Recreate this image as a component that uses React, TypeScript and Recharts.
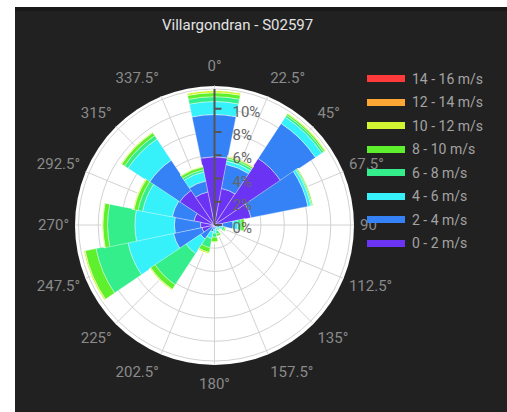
import React from 'react';
import { RadialBarChart, RadialBar, PolarGrid, PolarAngleAxis, PolarRadiusAxis, Legend } from 'recharts';

// wind directions (degrees, clockwise from north)
const directions = [0, 22.5, 45, 67.5, 90, 112.5, 135, 157.5, 180, 202.5, 225, 247.5, 270, 292.5, 315, 337.5];

// frequency (%) per speed class, one value per direction
const speed0to2 = [5.87, 3.2, 6.85, 3.2, 0.7, 0.15, 0.1, 0.1, 0.15, 0.2, 0.25, 1.1, 1.2, 1.8, 3.6, 2.9];
const speed2to4 = [3.63, 2.1, 3.6, 5.0, 0.9, 0.3, 0.15, 0.2, 0.25, 0.4, 1.2, 2.5, 2.25, 1.9, 3.1, 0.95];
const speed4to6 = [1.12, 0.3, 0.65, 0.25, 0.4, 0.25, 0.15, 0.25, 0.3, 0.6, 1.5, 4.0, 3.4, 2.6, 2.2, 0.8];
const speed6to8 = [0.42, 0.2, 0.2, 0.1, 0.3, 0.2, 0.1, 0.25, 0.35, 0.8, 3.2, 2.8, 2.35, 0.4, 0.35, 0.2];
const speed8to10 = [0.34, 0.15, 0.15, 0.1, 0.3, 0.15, 0.1, 0.2, 0.4, 0.4, 0.45, 0.95, 0.4, 0.35, 0.3, 0.25];
const speed10to12 = [0.21, 0.08, 0.1, 0.05, 0.05, 0, 0, 0.03, 0.1, 0.15, 0.12, 0.15, 0.1, 0.12, 0.1, 0.1];
const speed12to14 = [0, 0.04, 0, 0, 0, 0, 0, 0, 0, 0, 0, 0, 0, 0, 0, 0];
const speed14to16 = [0, 0, 0, 0, 0, 0, 0, 0, 0, 0, 0, 0, 0, 0, 0, 0];

const radiusTicks = [0, 2, 4, 6, 8, 10];
const radiusMax = 11.7;

const speedBins = [
  { key: 's0', name: '0 - 2 m/s', color: '#6b34f4', values: speed0to2 },
  { key: 's2', name: '2 - 4 m/s', color: '#3482f6', values: speed2to4 },
  { key: 's4', name: '4 - 6 m/s', color: '#36f0fa', values: speed4to6 },
  { key: 's6', name: '6 - 8 m/s', color: '#34ee8c', values: speed6to8 },
  { key: 's8', name: '8 - 10 m/s', color: '#5ef02c', values: speed8to10 },
  { key: 's10', name: '10 - 12 m/s', color: '#d2f532', values: speed10to12 },
  { key: 's12', name: '12 - 14 m/s', color: '#ffa634', values: speed12to14 },
  { key: 's14', name: '14 - 16 m/s', color: '#ff3a3a', values: speed14to16 },
];

const data = directions.map((dir, i) => {
  const row: Record<string, any> = { dir: `${dir}°` };
  speedBins.forEach((b) => {
    row[b.key] = b.values[i];
  });
  return row;
});

const CX = 214.5;
const CY = 225;
const R = 139.5;
const FONT = 'Roboto, sans-serif';
const HALF = 360 / directions.length / 2;

const renderAngleTick = (props: any) => {
  const label = String(props.payload.value);
  const deg = parseFloat(label);
  const rad = (deg * Math.PI) / 180;
  const s = Math.sin(rad);
  const c = Math.cos(rad);
  const anchor = s > 0.01 ? 'start' : s < -0.01 ? 'end' : 'middle';
  return (
    <text
      x={CX + (R + 6) * s}
      y={CY - (R + 19.5) * c}
      dy="0.35em"
      textAnchor={anchor}
      fill="#8a8a8a"
      fontSize={15}
      fontFamily={FONT}
    >
      {label}
    </text>
  );
};

const renderRadiusTick = (props: any) => {
  const v = props.payload.value;
  if (v > 10) return <g />;
  return (
    <g>
      <line x1={props.x} y1={props.y} x2={props.x + 7} y2={props.y} stroke="#555" strokeWidth={2} />
      <text x={props.x + 18} y={props.y + 8} fill="#666" fontSize={15} fontFamily={FONT}>
        {`${v}%`}
      </text>
    </g>
  );
};

const renderLegend = () => (
  <div style={{ fontFamily: FONT, fontSize: 14, color: '#a3a3a3' }}>
    {[...speedBins].reverse().map((b) => (
      <div key={b.key} style={{ display: 'flex', alignItems: 'center', height: 23.5 }}>
        <span
          style={{
            display: 'inline-block',
            width: 38,
            height: 7,
            background: b.color,
            marginRight: 7,
          }}
        />
        <span>{b.name}</span>
      </div>
    ))}
  </div>
);

export default function App() {
  return (
    <div style={{ position: 'absolute', left: 0, top: 0, width: 507, height: 412, background: '#fff', overflow: 'hidden' }}>
      <div style={{ position: 'absolute', left: 15, top: 7, right: 0, bottom: 0, background: '#212121' }} />
      <div style={{ position: 'absolute', left: 15, top: 7, right: 0, height: 4, background: '#191919' }} />
      <div
        style={{
          position: 'absolute',
          left: CX - R,
          top: CY - R,
          width: R * 2,
          height: R * 2,
          borderRadius: '50%',
          background: '#fff',
        }}
      />
      <div
        style={{
          position: 'absolute',
          left: 162,
          top: 16,
          fontFamily: FONT,
          fontSize: 15,
          lineHeight: '18px',
          color: '#e3e3e3',
          whiteSpace: 'nowrap',
        }}
      >
        Villargondran - S02597
      </div>
      <div style={{ position: 'absolute', left: 0, top: 0 }}>
        <RadialBarChart
          width={507}
          height={412}
          data={data}
          layout="centric"
          cx={CX}
          cy={CY}
          innerRadius={0}
          outerRadius={R}
          startAngle={90 - HALF}
          endAngle={-270 - HALF}
          barCategoryGap={0}
          barGap={0}
          margin={{ top: 0, right: 0, bottom: 0, left: 0 }}
        >
          <PolarGrid gridType="circle" stroke="#d2d2d2" polarAngles={directions.map((d) => 90 - d)} />
          <PolarAngleAxis dataKey="dir" type="category" axisLine={false} tickLine={false} tick={renderAngleTick} />
          {speedBins.map((b) => (
            <RadialBar
              key={b.key}
              dataKey={b.key}
              name={b.name}
              stackId="wind"
              fill={b.color}
              stroke="#fff"
              strokeWidth={0.4}
              isAnimationActive={false}
            />
          ))}
          <PolarRadiusAxis
            angle={90}
            type="number"
            domain={[0, radiusMax]}
            ticks={[...radiusTicks, radiusMax]}
            axisLine={{ stroke: '#555', strokeWidth: 2 }}
            tickLine={false}
            tick={renderRadiusTick}
          />
          <Legend
            content={renderLegend}
            layout="vertical"
            align="right"
            verticalAlign="top"
            wrapperStyle={{ position: 'absolute', left: 367, top: 67, width: 140 }}
          />
        </RadialBarChart>
      </div>
    </div>
  );
}
